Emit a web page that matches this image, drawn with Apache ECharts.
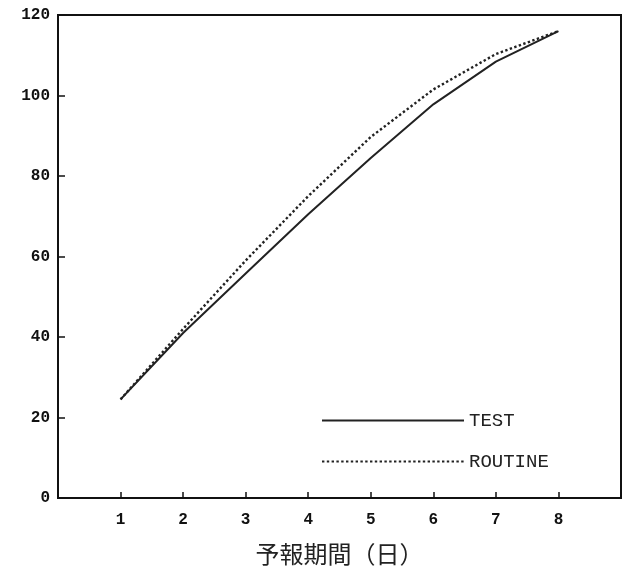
<!DOCTYPE html>
<html>
<head>
<meta charset="utf-8">
<script src="https://cdn.jsdelivr.net/npm/echarts@6/dist/echarts.min.js"></script>
<style>
  html, body { margin: 0; padding: 0; background: #fff; }
  #chart { width: 629px; height: 571px; }
</style>
</head>
<body>
<div id="chart"></div>
<script>
// forecast period (days)
const days = [1, 2, 3, 4, 5, 6, 7, 8];
const testValues = [24.5, 41, 55.8, 70.5, 84.5, 97.8, 108.4, 116];
const routineValues = [24.5, 42, 59, 75, 89.7, 101.5, 110.3, 116];
const xTickLabels = ['', '1', '2', '3', '4', '5', '6', '7', '8', ''];

const mono = '"Liberation Mono", "DejaVu Sans Mono", monospace';

const chart = echarts.init(document.getElementById('chart'));

const pairs = (vals) => days.map((d, i) => [d, vals[i]]);

chart.setOption({
  animation: false,
  backgroundColor: '#fff',
  grid: {
    left: 58, right: 8, top: 15, bottom: 69,
    show: true, borderColor: '#111', borderWidth: 2
  },
  legend: {
    orient: 'vertical',
    left: 316, top: 406,
    itemWidth: 142, itemHeight: 14, itemGap: 22,
    textStyle: { fontFamily: mono, fontSize: 19, color: '#222' },
    data: ['TEST', 'ROUTINE']
  },
  xAxis: {
    type: 'value', min: 0, max: 9, interval: 1,
    axisLine: { lineStyle: { color: '#111', width: 2 } },
    axisTick: { inside: true, length: 6, lineStyle: { color: '#111', width: 1.5 } },
    splitLine: { show: false },
    axisLabel: {
      margin: 14, fontFamily: mono, fontWeight: 'bold', fontSize: 16, color: '#111',
      formatter: (v) => xTickLabels[v] || ''
    },
    name: '予報期間（日）',
    nameLocation: 'middle', nameGap: 44,
    nameTextStyle: { fontFamily: '"Noto Sans CJK JP"', fontSize: 24, color: '#222' }
  },
  yAxis: {
    type: 'value', min: 0, max: 120, interval: 20,
    axisLine: { show: true, lineStyle: { color: '#111', width: 2 } },
    axisTick: { show: true, inside: true, length: 7, lineStyle: { color: '#111', width: 1.5 } },
    splitLine: { show: false },
    axisLabel: { margin: 8, fontFamily: mono, fontWeight: 'bold', fontSize: 16, color: '#111' }
  },
  series: [
    {
      name: 'TEST', type: 'line', data: pairs(testValues),
      symbol: 'none', color: '#222',
      itemStyle: { color: '#222', opacity: 0 },
      lineStyle: { color: '#222', width: 2, type: 'solid' }
    },
    {
      name: 'ROUTINE', type: 'line', data: pairs(routineValues),
      symbol: 'none', color: '#222',
      itemStyle: { color: '#222', opacity: 0 },
      lineStyle: { color: '#222', width: 2.4, type: [2.4, 2.4] }
    }
  ]
});
</script>
</body>
</html>
